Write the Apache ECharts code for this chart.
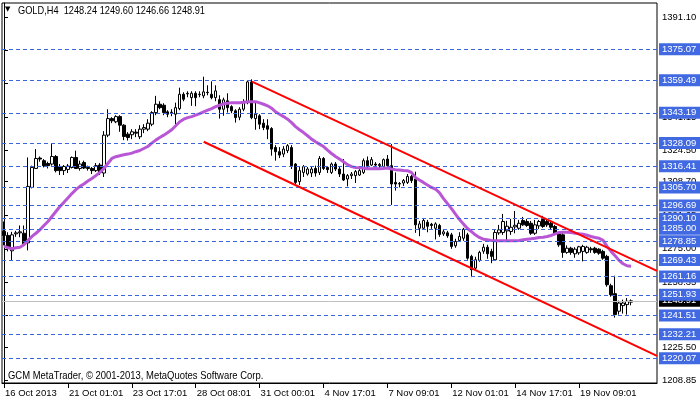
<!DOCTYPE html>
<html><head><meta charset="utf-8">
<script src="https://cdn.jsdelivr.net/npm/echarts@6/dist/echarts.min.js"></script>
<style>html,body{margin:0;padding:0;background:#fff}#c{width:700px;height:402px}</style>
</head><body><div id="c"></div>
<script>
const opens=[1283.8,1281.7,1274,1282.5,1283,1282.8,1278,1305.8,1315.3,1320.5,1319.2,1317.8,1317.5,1321.3,1316.3,1314.2,1314.8,1315.8,1320.8,1315.3,1318.3,1315.8,1315.3,1314.2,1317,1313,1332,1340.3,1338.7,1341.3,1337,1332.5,1332.2,1333.5,1331.2,1335,1335,1337.5,1343.3,1347.5,1347,1343.7,1343.3,1342.5,1345.3,1352.5,1352.7,1350.8,1353,1352.3,1351.7,1353.5,1352.5,1350.8,1349.8,1345,1349.2,1346.3,1344.2,1341,1345,1348.3,1358.7,1340.3,1341.7,1338,1336.7,1335.3,1325.8,1323.7,1322.5,1324.2,1325.8,1317.5,1308.7,1313.3,1312.5,1313,1315.3,1313.3,1320.3,1315.8,1313.3,1317.5,1315,1312.5,1310,1311.7,1311.7,1312,1313.3,1319.2,1317,1317.5,1316.7,1316.3,1320,1316.7,1308.3,1307.7,1308,1308.3,1311.3,1310,1285.3,1285.3,1288.3,1287.3,1285.3,1286.7,1282.5,1283,1282,1276.5,1279.2,1280.3,1282,1271.2,1265.3,1269.2,1273.8,1275.8,1273.7,1269.5,1283,1283.2,1284,1283.7,1286,1285.3,1289.2,1288.7,1287.8,1282.8,1286.5,1289.8,1288.7,1287.8,1286.2,1282.8,1282,1273.2,1275.3,1272.5,1273,1273.7,1273.2,1275,1275.3,1274.8,1273.7,1271.2,1256.5,1252.5,1243.7,1246.5,1247,1248.24];
const highs=[1288.7,1283.3,1283.5,1284,1286.7,1286.7,1320.8,1316.7,1325,1321.3,1320,1318.7,1327.5,1322,1317.5,1317,1317.5,1321.3,1324.2,1319.2,1319.2,1316.7,1316,1318,1318,1334,1345,1341,1342,1342,1337.5,1333.5,1335,1335,1337,1337.5,1340,1344,1351.7,1349,1348,1344.5,1345,1348.3,1355.8,1353.5,1354,1354,1354,1354,1361.3,1357,1359,1357,1352,1350.8,1353,1347,1345,1346,1350,1359.5,1360,1348.3,1342.5,1340,1340,1336,1327,1326,1326.5,1327.5,1327,1318,1316,1317,1316,1316.5,1316.7,1321.5,1321,1316.5,1318.3,1318.5,1316,1320,1312.5,1313.5,1314.5,1315,1320.3,1321.3,1321,1318.5,1318,1320.3,1322,1327.5,1313.3,1308.5,1310,1312.5,1312,1313.7,1289,1290,1289.5,1288,1288.3,1287.5,1284.5,1284,1283,1280,1283.3,1285.5,1283,1272,1271,1274,1277.5,1277,1275,1284.5,1287,1292.5,1289,1290,1294,1289.5,1291,1290,1289,1289.5,1289.5,1291.5,1289.5,1288.5,1287,1283.5,1283,1276.7,1276,1275.8,1276.5,1277,1276.5,1276,1276,1275.3,1274.5,1272,1257.5,1261.5,1249,1249.5,1250.3,1249.60];
const lows=[1276.7,1273.7,1269,1281,1280.8,1276.7,1274.2,1305.3,1315,1318.7,1315.8,1315.3,1316.7,1313.3,1312,1312,1313,1315.3,1315,1314.2,1315,1314.2,1312.5,1313.5,1312,1311,1331,1338,1338,1333.7,1329.5,1329.3,1330,1331,1330,1333,1334,1336.5,1342,1345,1342,1341,1341.5,1337.5,1344.5,1349,1351,1346.7,1346.5,1351,1350.5,1352,1350,1349,1340.3,1341.7,1343.3,1343,1338.3,1339.5,1344,1347.5,1340,1334.7,1335,1334.5,1330,1321.7,1319.2,1320.5,1321,1323,1315,1307.5,1307,1311,1311.7,1311,1311.2,1312,1314.5,1313,1312.5,1314,1311,1309,1306.3,1310,1308,1311.5,1312.5,1315,1316.5,1316,1315.5,1315.5,1316,1297,1304.2,1305.8,1306.5,1307.5,1308,1283,1281.3,1284.5,1283.3,1285,1279.7,1281,1281.5,1280.5,1275,1275.5,1278.5,1279,1269.5,1260.8,1264,1268.5,1272.5,1270,1267.8,1269,1282,1282,1279,1282,1282.8,1284.5,1286.5,1286,1282,1282,1285,1285.5,1286,1284.5,1282,1276,1270.5,1272.5,1272,1270.5,1272,1268.7,1272.5,1273,1272.5,1272,1269.5,1256,1251,1240.5,1242,1242.5,1242,1246.66];
const closes=[1281.7,1275.8,1282,1283,1283.5,1277.5,1306.3,1315.8,1320.3,1320,1316.7,1316.7,1321.3,1314.2,1314.2,1316.3,1316.5,1320.8,1315.3,1317.5,1315.5,1315.3,1314.2,1316.7,1313.3,1332,1340.3,1339.2,1341.3,1337,1331.3,1330.8,1333.7,1333,1335,1335.8,1338,1343.3,1347.5,1345.8,1343.3,1342.5,1343.5,1345.8,1352.5,1350,1353,1353,1350.8,1352.5,1353.7,1353.3,1350.8,1354.2,1345,1349.7,1345.8,1344.2,1340.8,1345,1348.3,1358.7,1340.8,1342.5,1337.5,1335.8,1335,1325,1323.7,1322,1325,1326.7,1316.7,1308.3,1314.2,1316.2,1315,1315,1313,1320.3,1315.3,1314.7,1317.5,1315,1312.5,1309.5,1311.7,1312.5,1313.7,1314.2,1319.2,1316.7,1319.7,1317,1317.3,1319.7,1316.7,1307.5,1307.5,1307.5,1309.2,1311.3,1309.2,1287,1287.5,1289.2,1286.3,1286.7,1287.5,1282.2,1283.5,1281.5,1276.2,1278.7,1281.2,1284.8,1270.3,1264.5,1269.5,1273.2,1275.8,1272.5,1271.2,1283.2,1284.5,1288.7,1286.3,1285.8,1286.8,1287.8,1287,1286.7,1282.8,1287,1288.7,1286.2,1287,1285.8,1282.8,1277,1273.2,1275.3,1273.2,1274.8,1276,1276.2,1275.8,1274.5,1273.2,1272.8,1270.3,1257,1252,1242,1247.8,1247.8,1248.7,1248.91];
const maValues=[1276.3,1275.5,1275,1275.5,1275.8,1277,1279.2,1281.2,1282.8,1284.5,1286.7,1288.7,1291.2,1293.7,1296.2,1298.3,1300.5,1302.7,1304.7,1306.3,1307.5,1309,1310.3,1311.7,1313.3,1315.3,1317.8,1320.3,1321.2,1321.7,1322.2,1322.5,1323,1323.7,1324.3,1325.3,1326.3,1328,1329.5,1330.8,1332,1333.3,1334.7,1336.7,1338.7,1340,1340.8,1341.3,1342,1342.8,1343.7,1344.5,1345.3,1346.3,1347,1347.7,1348,1348.3,1348.3,1348.3,1348.5,1348.8,1348.8,1348.8,1348.2,1347.5,1346.7,1345.5,1343.7,1342.5,1341.3,1340,1338.3,1336.3,1334.7,1333.3,1331.7,1330,1328.7,1327.5,1326.3,1324.5,1322.8,1321.3,1320,1318.7,1317.2,1316.2,1315.8,1315.7,1315.5,1315.2,1315.2,1315.3,1315.2,1315.3,1315.5,1315,1314.7,1314.5,1314.3,1314.2,1313.3,1310.8,1309.5,1308.3,1307,1305.8,1305,1303.2,1300.3,1297.8,1295.3,1292.5,1289.8,1287.5,1285.3,1283.7,1282,1280.7,1279.8,1279.5,1279.2,1279,1279,1279,1279,1279,1279,1279.2,1279.5,1279.8,1280,1280.3,1280.7,1280.8,1281.2,1281.7,1282.5,1283.2,1283.3,1283.3,1283.2,1282.8,1282.5,1282.3,1281.8,1281.2,1280.7,1280.3,1279.2,1276.2,1273.7,1271.5,1269.2,1267.5,1266.5,1266.3];
const tickLabels=['16 Oct 2013','21 Oct 01:01','23 Oct 17:01','28 Oct 08:01','31 Oct 00:01','4 Nov 17:01','7 Nov 09:01','12 Nov 01:01','14 Nov 17:01','19 Nov 09:01'];
const tickBars=[0,16,32,48,64,80,96,112,128,144];
const priceTicks=[1391.10,1374.55,1357.85,1341.15,1324.50,1308.70,1291.65,1275.00,1258.35,1241.80,1225.50,1208.85];
const levels=[1375.07,1359.49,1343.19,1328.09,1316.41,1305.70,1296.69,1290.10,1285.00,1278.85,1269.43,1261.16,1251.93,1241.51,1232.21,1220.07];
const bidPrice=1248.91;
const channelUpper=[[62.1,1358.8],[163.5,1263.9]];
const channelLower=[[50,1328.7],[163.5,1221.3]];
const totalSlots=164;
const headerText='GOLD,H4  1248.24 1249.60 1246.66 1248.91';
const copyrightText='GCM MetaTrader, \u00a9 2001-2013, MetaQuotes Software Corp.';

const FONT="'Liberation Sans',Arial,sans-serif";
const FS=9.5;
const cats=Array.from({length:totalSlots},(_,i)=>String(i));
const candles=opens.map((o,i)=>[o,closes[i],lows[i],highs[i]]);
const isTick=(i)=>tickBars.indexOf(i)>=0;
const lvlLabel=(bg)=>({show:true,position:'end',distance:2,formatter:p=>Number(p.value).toFixed(2),color:'#fff',backgroundColor:bg,padding:[1,3,1,3],width:35,fontFamily:FONT,fontSize:FS});

const chart=echarts.init(document.getElementById('c'),null,{renderer:'canvas'});
chart.setOption({
  animation:false,
  backgroundColor:'#fff',
  grid:{left:2,right:43,top:3,bottom:19,show:true,borderColor:'#000',borderWidth:1,backgroundColor:'transparent'},
  graphic:[
    {type:'text',x:5,y:6,style:{text:'\u25BC',font:"7px 'DejaVu Sans'",fill:'#000'}},
    {type:'text',x:18,y:5,scaleX:0.84,style:{text:headerText,font:"11px "+FONT,fill:'#000'}},
    {type:'text',x:8,y:370,scaleX:0.86,style:{text:copyrightText,font:"11px "+FONT,fill:'#000'}}
  ],
  xAxis:[
    {type:'category',data:cats,boundaryGap:true,
     axisLine:{show:true,lineStyle:{color:'#000',width:1}},
     axisTick:{show:true,alignWithLabel:true,interval:(i)=>isTick(i),length:5,lineStyle:{color:'#000'}},
     axisLabel:{interval:(i)=>isTick(i),formatter:(v)=>{const k=tickBars.indexOf(Number(v));return k>=0?tickLabels[k]:'';},
       align:'left',color:'#000',fontFamily:FONT,fontSize:FS,margin:5,padding:[0,0,0,1],showMaxLabel:true,hideOverlap:false},
     splitLine:{show:false}},
    {type:'value',min:-0.5,max:totalSlots-0.5,show:false}
  ],
  yAxis:{type:'value',position:'right',min:1207.70,max:1398.27,
     axisLine:{show:true,lineStyle:{color:'#000'}},
     axisTick:{show:true,customValues:priceTicks,length:4,lineStyle:{color:'#000'}},
     axisLabel:{customValues:priceTicks,formatter:v=>Number(v).toFixed(2),color:'#000',fontFamily:FONT,fontSize:FS,margin:5},
     splitLine:{show:false}},
  series:[
    {type:'candlestick',data:candles,barWidth:3,
     itemStyle:{color:'#fff',color0:'#000',borderColor:'#000',borderColor0:'#000',borderWidth:1},
     markLine:{symbol:'none',silent:true,animation:false,
       lineStyle:{color:'#3d65dd',type:[4,3],width:1},
       label:lvlLabel('#4169e1'),
       data:[{yAxis:bidPrice,lineStyle:{color:'#c0c0c0',type:'solid',width:1},label:lvlLabel('#000')}].concat(levels.map(v=>({yAxis:v})))}
    },
    {type:'line',data:maValues,showSymbol:false,symbol:'none',lineStyle:{color:'#b956d6',width:3},z:4},
    {type:'line',xAxisIndex:1,data:channelUpper,showSymbol:false,symbol:'none',lineStyle:{color:'#ff0000',width:2},z:5},
    {type:'line',xAxisIndex:1,data:channelLower,showSymbol:false,symbol:'none',lineStyle:{color:'#ff0000',width:2},z:5}
  ]
});
</script></body></html>
